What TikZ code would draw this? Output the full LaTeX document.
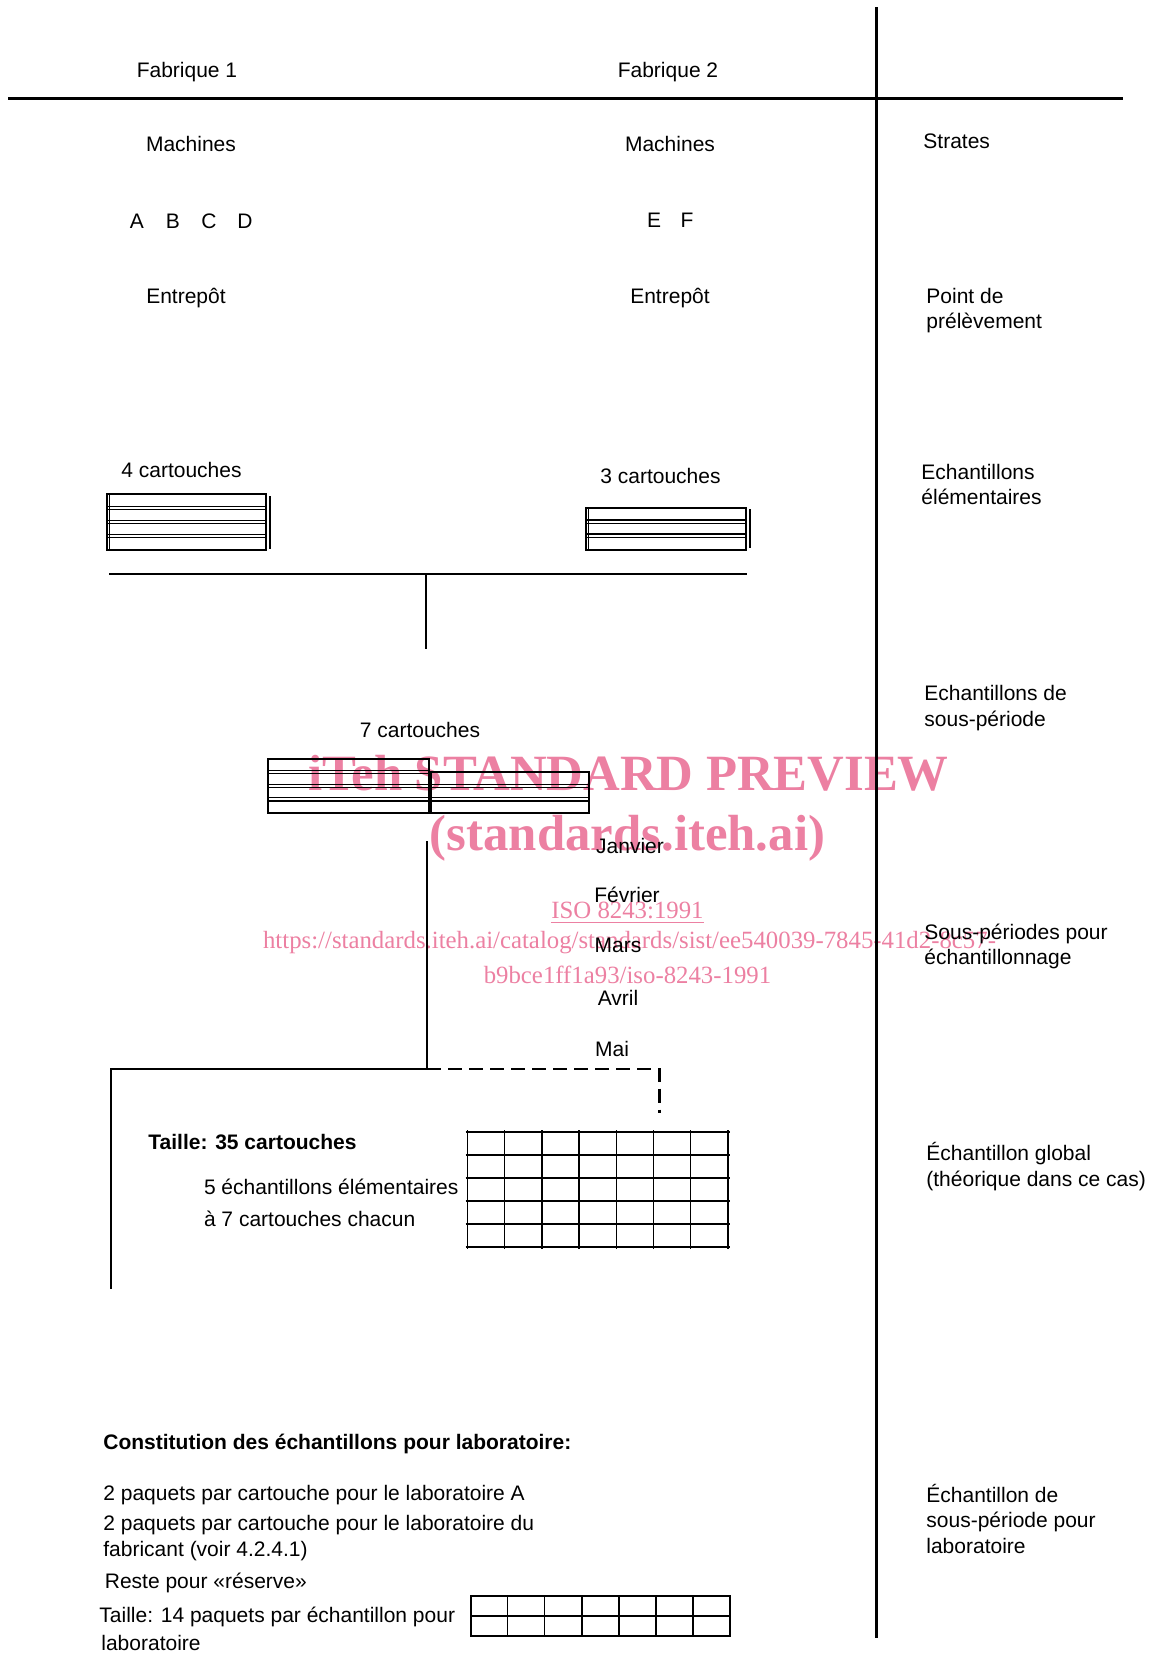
\documentclass[tikz,border=0pt]{standalone}
\usepackage{fontspec}
\setmainfont{Liberation Sans}
\newfontfamily\wmfont{Liberation Serif}
\usetikzlibrary{calc}
\definecolor{wmpink}{RGB}{236,128,162}
\newcommand\mycart[5]{% left, right, bottom, nrows, row height
  \pgfmathsetmacro\ctop{#3-#4*#5}
  \pgfmathtruncatemacro\nsep{#4-1}
  \draw[boxline] (#1,\ctop) rectangle (#2,#3);
  \foreach \k in {1,...,\nsep}{
    \draw[inline] (#1,{\ctop+\k*#5-1.6}) -- (#2,{\ctop+\k*#5-1.6});
    \draw[inline] (#1,{\ctop+\k*#5+1.6}) -- (#2,{\ctop+\k*#5+1.6});
  }
}
\begin{document}
\begin{tikzpicture}[x=0.5pt,y=-0.5pt,
  lbl/.style={inner sep=0pt, anchor=base west, font=\fontsize{10.5}{12.3}\selectfont},
  clbl/.style={inner sep=0pt, anchor=base, font=\fontsize{10.5}{12.3}\selectfont},
  blbl/.style={inner sep=0pt, anchor=base west, font=\fontsize{10.5}{12.3}\selectfont\bfseries},
  wmbig/.style={inner sep=0pt, text=wmpink, font=\wmfont\fontsize{25.4}{28}\selectfont\bfseries},
  wmsmall/.style={inner sep=0pt, text=wmpink, font=\wmfont\fontsize{12.4}{14}\selectfont},
  frame/.style={line width=1.5pt},
  conn/.style={line width=1.2pt},
  dconn/.style={line width=1.2pt, dash pattern=on 7pt off 3.5pt},
  boxline/.style={line width=1pt},
  inline/.style={line width=0.6pt},
  gridline/.style={line width=0.75pt}]
\useasboundingbox (0,0) rectangle (1148,1654);

% watermark
\node[wmbig] (wm1) at (628.5,773) {iTeh STANDARD PREVIEW};
\node[wmbig] (wm2) at (627.5,838) {(standards.iteh.ai)};
\node[wmsmall] (wm3) at (627.5,910.5) {ISO 8243:1991};
\draw[wmpink, line width=0.5pt] ($(wm3.base west)+(0,4)$) -- ($(wm3.base east)+(0,4)$);
\node[wmsmall] (wm4) at (629.5,943) {https://standards.iteh.ai/catalog/standards/sist/ee540039-7845-41d2-8c57-};
\node[wmsmall] (wm5) at (627.5,975) {b9bce1ff1a93/iso-8243-1991};

% frame lines
\coordinate (hl) at (8,98);
\coordinate (hr) at (1123,98);
\coordinate (vt) at (876,7);
\coordinate (vb) at (876,1638);
\draw[frame] (hl) -- (hr);
\draw[frame] (vt) -- (vb);

% headers
\node[clbl] (fab1) at (187,77.5) {Fabrique 1};
\node[clbl] (fab2) at (668,77.5) {Fabrique 2};
\node[clbl] (mach1) at (191,151) {Machines};
\node[clbl] (mach2) at (670,151) {Machines};
\node[lbl] (strates) at (923,148.5) {Strates};
\node[clbl] (mA) at (137,228) {A};
\node[clbl] (mB) at (173,228) {B};
\node[clbl] (mC) at (209,228) {C};
\node[clbl] (mD) at (245,228) {D};
\node[clbl] (mE) at (654,227) {E};
\node[clbl] (mF) at (687,227) {F};
\node[clbl] (ent1) at (186,303) {Entrepôt};
\node[clbl] (ent2) at (670,303) {Entrepôt};
\node[lbl] (pt1) at (926,303) {Point de};
\node[lbl] (pt2) at (926,328.5) {prélèvement};

% elementary samples
\node[clbl] (c4) at (181.5,477) {4 cartouches};
\node[clbl] (c3) at (660.5,483.5) {3 cartouches};
\node[lbl] (ee1) at (921,479) {Echantillons};
\node[lbl] (ee2) at (921,504.5) {élémentaires};

\mycart{107}{266}{550}{4}{14}
\draw[inline] (109.6,494) -- (109.6,550);
\draw[boxline] (270,496) -- (270,549);
\mycart{586}{746}{549.5}{3}{14}
\draw[inline] (588.6,507.5) -- (588.6,549.5);
\draw[boxline] (750,509) -- (750,548);

\coordinate (j1) at (109,574);
\coordinate (j2) at (747,574);
\coordinate (jm) at (426,574);
\coordinate (jd) at (426,649);
\draw[conn] (j1) -- (j2);
\draw[conn] (jm) -- (jd);

% sub-period sample
\node[lbl] (sp1) at (924,700.5) {Echantillons de};
\node[lbl] (sp2) at (924,726) {sous-période};
\node[clbl] (c7) at (420,737.5) {7 cartouches};
\mycart{268}{428.5}{813}{4}{13.6}
\mycart{431}{588.5}{813}{3}{13.6}

\node[clbl] (jan) at (630,853.5) {Janvier};
\node[clbl] (fev) at (627,902.5) {Février};
\node[clbl] (mar) at (618,952.5) {Mars};
\node[clbl] (avr) at (618,1005.5) {Avril};
\node[clbl] (mai) at (612,1056.5) {Mai};
\node[lbl] (spe1) at (924,939.5) {Sous-périodes pour};
\node[lbl] (spe2) at (924,964.5) {échantillonnage};

\coordinate (k0) at (427,841);
\coordinate (k1) at (427,1069);
\coordinate (k2) at (111,1069);
\coordinate (k3) at (111,1289);
\coordinate (k4) at (659.5,1069);
\coordinate (k5) at (659.5,1113);
\draw[conn] (k0) -- (k1) -- (k2) -- (k3);
\draw[dconn] (k1) -- (k4) -- (k5);

% global sample
\node[blbl] (t35) at (148,1149) {Taille: 35 cartouches};
\node[lbl] (e5a) at (203.6,1194.5) {5 échantillons élémentaires};
\node[lbl] (e5b) at (203.6,1226) {à 7 cartouches chacun};
\node[lbl] (eg1) at (926,1160.5) {Échantillon global};
\node[lbl] (eg2) at (926,1186) {(théorique dans ce cas)};
\foreach \i in {0,...,7}
  \draw[gridline] ({467.5+\i*37.2},1130) -- ({467.5+\i*37.2},1249);
\foreach \j in {0,...,5}
  \draw[gridline] (465.5,{1132+\j*23}) -- (730,{1132+\j*23});

% laboratory samples
\node[blbl] (con) at (103,1449.5) {Constitution des échantillons pour laboratoire:};
\node[lbl] (l1) at (103,1500.5) {2 paquets par cartouche pour le laboratoire A};
\node[lbl] (l2) at (103,1530) {2 paquets par cartouche pour le laboratoire du};
\node[lbl] (l3) at (103,1556.5) {fabricant (voir 4.2.4.1)};
\node[lbl] (l4) at (104.5,1588) {Reste pour «réserve»};
\node[lbl] (l5) at (99,1622.5) {Taille: 14 paquets par échantillon pour};
\node[lbl] (l6) at (101,1650.5) {laboratoire};
\node[lbl] (sl1) at (926,1502.5) {Échantillon de};
\node[lbl] (sl2) at (926,1527.5) {sous-période pour};
\node[lbl] (sl3) at (926,1553.5) {laboratoire};
\draw[boxline] (470.6,1596) rectangle (730,1635.5);
\foreach \i in {1,...,6}
  \draw[gridline] ({470.6+\i*37.06},1596) -- ({470.6+\i*37.06},1635.5);
\draw[gridline] (470.6,1615.75) -- (730,1615.75);
\end{tikzpicture}
\end{document}
